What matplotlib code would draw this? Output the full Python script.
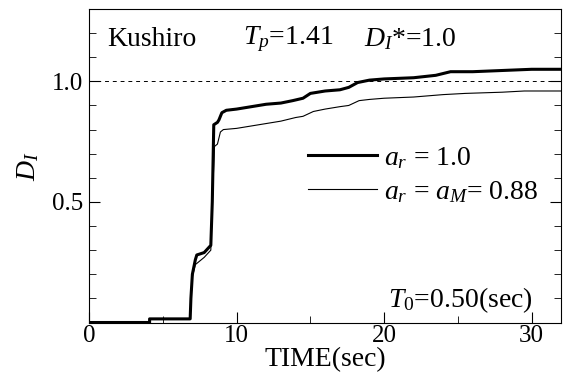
import numpy as np
import matplotlib
matplotlib.use('Agg')
import matplotlib.pyplot as plt
from matplotlib.ticker import MultipleLocator, FixedLocator

plt.rcParams['font.family'] = ['Liberation Serif', 'DejaVu Serif']
plt.rcParams['mathtext.fontset'] = 'custom'
plt.rcParams['mathtext.rm'] = 'Liberation Serif'
plt.rcParams['mathtext.it'] = 'Liberation Serif:italic'

### damage index histories
# ar = 1.0 (thick)
t_thick = [0, 4.1, 4.1, 6.85, 6.9, 7.0, 7.2, 7.3, 7.8, 8.1, 8.25, 8.35, 8.45, 8.7, 8.8, 9.0, 9.3,
           10, 11, 12, 13, 13.8, 14.5, 15, 16, 17, 17.6, 18.2, 19, 20, 22, 23.5, 24.5, 26, 28, 30, 32]
d_thick = [0, 0, 0.015, 0.015, 0.1, 0.2, 0.26, 0.28, 0.29, 0.31, 0.32, 0.5, 0.82, 0.83, 0.84, 0.87, 0.88,
           0.885, 0.895, 0.905, 0.91, 0.92, 0.93, 0.95, 0.96, 0.965, 0.975, 0.995, 1.005, 1.01, 1.015, 1.025,
           1.04, 1.04, 1.045, 1.05, 1.05]
# ar = aM = 0.88 (thin)
t_thin = [0, 4.1, 4.1, 6.85, 6.9, 7.0, 7.2, 7.4, 7.8, 8.1, 8.25, 8.35, 8.5, 8.7, 8.9, 9.1, 10, 11, 12, 13,
          14, 14.5, 15.2, 16, 17, 17.6, 18.3, 19, 20, 22, 24, 25.5, 28, 29.5, 32]
d_thin = [0, 0, 0.015, 0.015, 0.1, 0.19, 0.24, 0.25, 0.27, 0.29, 0.3, 0.5, 0.73, 0.74, 0.79, 0.8, 0.805,
          0.815, 0.825, 0.835, 0.85, 0.855, 0.875, 0.885, 0.895, 0.9, 0.92, 0.925, 0.93, 0.935, 0.945, 0.95,
          0.955, 0.96, 0.96]

target = 1.0

fig = plt.figure(figsize=(5.64, 3.75), dpi=100)
ax = fig.add_axes([0.158, 0.14, 0.837, 0.836])

ax.axhline(target, c='k', lw=0.7, ls=(0, (4, 4)))
ax.plot(t_thick, d_thick, c='k', lw=2.2, label=r'$a_r$ = 1.0')
ax.plot(t_thin, d_thin, c='k', lw=0.8, label=r'$a_r$ = $a_M$= 0.88')

ax.set_xlim(0, 32)
ax.set_ylim(0, 1.3)
ax.xaxis.set_major_locator(FixedLocator([0, 10, 20, 30]))
ax.xaxis.set_minor_locator(MultipleLocator(5))
ax.yaxis.set_major_locator(FixedLocator([0.5, 1.0]))
ax.yaxis.set_minor_locator(MultipleLocator(0.1))
ax.set_yticklabels(['0.5', '1.0'])
ax.tick_params(which='both', direction='in', right=True, top=False, labelsize=18)
ax.tick_params(which='major', length=8)
ax.tick_params(which='minor', length=5)
ax.tick_params(axis='x', pad=2)
ax.tick_params(axis='y', pad=4)

ax.set_xlabel('TIME(sec)', fontsize=20, labelpad=0)
ax.set_ylabel(r'$D_I$', fontsize=20, labelpad=8)

ax.text(1.2, 1.175, 'Kushiro', fontsize=20, va='center')
ax.text(10.4, 1.175, r'$T_p$=1.41', fontsize=20, va='center')
ax.text(18.6, 1.175, r'$D_I$*=1.0', fontsize=20, va='center')
ax.text(30.1, 0.094, r'$T_{\mathit{0}}$=0.50(sec)', fontsize=20, va='center', ha='right')

ax.legend(loc='center left', bbox_to_anchor=(0.44, 0.47), frameon=False, fontsize=20,
          handlelength=2.5, handletextpad=0.25, labelspacing=0.3, borderaxespad=0)

fig.savefig('out.png', dpi=100)
